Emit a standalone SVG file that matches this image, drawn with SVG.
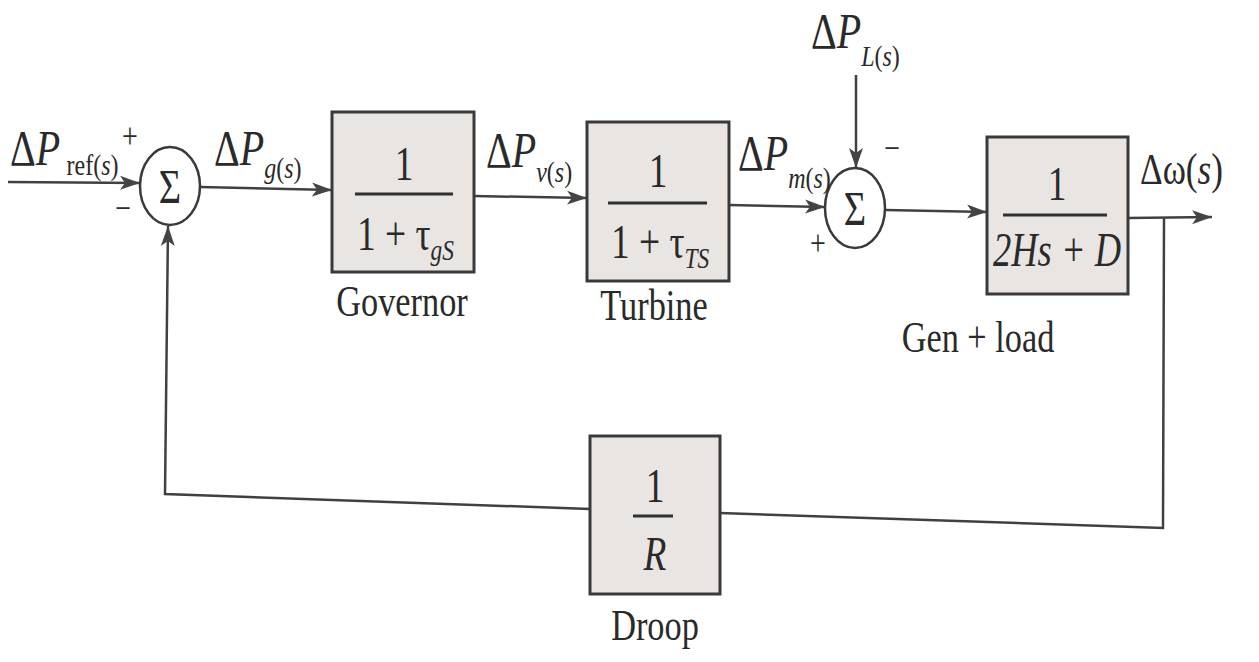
<svg xmlns="http://www.w3.org/2000/svg" width="1259" height="662" viewBox="0 0 1259 662">
<style>
.bg{fill:#ffffff}
.box{fill:#e9e5e3;stroke:#3a3a3a;stroke-width:3}
.sum{fill:#ffffff;stroke:#3a3a3a;stroke-width:2.5}
.ln{fill:none;stroke:#404040;stroke-width:2.5}
.t{font-family:"Liberation Serif","Times New Roman",serif;fill:#2a2a2a}
.lab{font-size:44px}
.big{font-size:48px}
.dp{font-size:50px}
.sub{font-size:30px}
.pm{font-size:36px}
.i{font-style:italic}
.frac{stroke:#303030;stroke-width:3}
</style>
<defs>
<marker id="ah" markerUnits="userSpaceOnUse" markerWidth="22" markerHeight="16" refX="20" refY="8" orient="auto">
<path d="M0,1 L20,8 L0,15 L5,8 z" fill="#444"/>
</marker>
</defs>
<rect class="bg" x="0" y="0" width="1259" height="662"/>

<g id="connectors">
<line class="ln" x1="8" y1="182" x2="140" y2="183" marker-end="url(#ah)"/>
<line class="ln" x1="200" y1="187" x2="332" y2="190" marker-end="url(#ah)"/>
<line class="ln" x1="474" y1="196" x2="587" y2="198" marker-end="url(#ah)"/>
<line class="ln" x1="729" y1="205" x2="825" y2="207" marker-end="url(#ah)"/>
<line class="ln" x1="856" y1="75" x2="856" y2="168" marker-end="url(#ah)"/>
<line class="ln" x1="885" y1="210" x2="987" y2="212" marker-end="url(#ah)"/>
<line class="ln" x1="1128" y1="218" x2="1212" y2="217" marker-end="url(#ah)"/>
<polyline class="ln" points="1164,218 1163,528 720,513"/>
<polyline class="ln" points="590,509 165,494 168,226" marker-end="url(#ah)"/>
</g>

<g id="sum1">
<ellipse class="sum" cx="170" cy="186" rx="30" ry="39"/>
<text class="t big" transform="translate(170,203) scale(0.8,1)" text-anchor="middle">Σ</text>
</g>

<g id="sum2">
<ellipse class="sum" cx="855" cy="208" rx="30" ry="40"/>
<text class="t big" transform="translate(855,225) scale(0.8,1)" text-anchor="middle">Σ</text>
</g>

<g id="governor">
<rect class="box" x="332" y="112" width="142" height="160"/>
<text class="t big" transform="translate(404,180) scale(0.78,1)" text-anchor="middle">1</text>
<line class="frac" x1="355" y1="194" x2="453" y2="194"/>
<text class="t big" transform="translate(357,250) scale(0.78,1)">1 + τ<tspan class="sub i" dy="10">gS</tspan></text>
<text class="t lab" transform="translate(402,316) scale(0.78,1)" text-anchor="middle">Governor</text>
</g>

<g id="turbine">
<rect class="box" x="587" y="122" width="142" height="159"/>
<text class="t big" transform="translate(658,187) scale(0.78,1)" text-anchor="middle">1</text>
<line class="frac" x1="608" y1="203" x2="707" y2="203"/>
<text class="t big" transform="translate(611,258) scale(0.78,1)">1 + τ<tspan class="sub i" dy="10">TS</tspan></text>
<text class="t lab" transform="translate(654,320) scale(0.78,1)" text-anchor="middle">Turbine</text>
</g>

<g id="genload">
<rect class="box" x="987" y="137" width="141" height="157"/>
<text class="t big" transform="translate(1057,200) scale(0.78,1)" text-anchor="middle">1</text>
<line class="frac" x1="1003" y1="215" x2="1107" y2="215"/>
<text class="t big i" transform="translate(1057,266) scale(0.76,1)" text-anchor="middle">2Hs + D</text>
<text class="t lab" transform="translate(978,352) scale(0.78,1)" text-anchor="middle">Gen + load</text>
</g>

<g id="droop">
<rect class="box" x="590" y="436" width="130" height="158"/>
<text class="t big" transform="translate(655,502) scale(0.78,1)" text-anchor="middle">1</text>
<line class="frac" x1="633" y1="516" x2="673" y2="516"/>
<text class="t big i" transform="translate(655,570) scale(0.78,1)" text-anchor="middle">R</text>
<text class="t lab" transform="translate(655,640) scale(0.78,1)" text-anchor="middle">Droop</text>
</g>

<g id="labels">
<text class="t dp" transform="translate(10,165) scale(0.8,1)">Δ<tspan class="i">P</tspan><tspan class="sub" dx="8" dy="10">ref(</tspan><tspan class="sub i">s</tspan><tspan class="sub">)</tspan></text>
<text class="t pm" transform="translate(130,148) scale(0.78,1)" text-anchor="middle">+</text>
<text class="t pm" transform="translate(123,220) scale(0.78,1)" text-anchor="middle">−</text>
<text class="t dp" transform="translate(214,165) scale(0.8,1)">Δ<tspan class="i">P</tspan><tspan class="sub i" dy="13">g</tspan><tspan class="sub" >(</tspan><tspan class="sub i">s</tspan><tspan class="sub">)</tspan></text>
<text class="t dp" transform="translate(486,167) scale(0.8,1)">Δ<tspan class="i">P</tspan><tspan class="sub i" dy="15">v</tspan><tspan class="sub">(</tspan><tspan class="sub i">s</tspan><tspan class="sub">)</tspan></text>
<text class="t dp" transform="translate(738,170) scale(0.8,1)">Δ<tspan class="i">P</tspan><tspan class="sub i" dy="18">m</tspan><tspan class="sub">(</tspan><tspan class="sub i">s</tspan><tspan class="sub">)</tspan></text>
<text class="t dp" transform="translate(811,48) scale(0.8,1)">Δ<tspan class="i">P</tspan><tspan class="sub i" dy="18">L</tspan><tspan class="sub">(</tspan><tspan class="sub i">s</tspan><tspan class="sub">)</tspan></text>
<text class="t pm" transform="translate(892,160) scale(0.78,1)" text-anchor="middle">−</text>
<text class="t pm" transform="translate(818,255) scale(0.78,1)" text-anchor="middle">+</text>
<text class="t lab" transform="translate(1140,184) scale(0.8,1)">Δω(<tspan class="i">s</tspan>)</text>
</g>
</svg>
